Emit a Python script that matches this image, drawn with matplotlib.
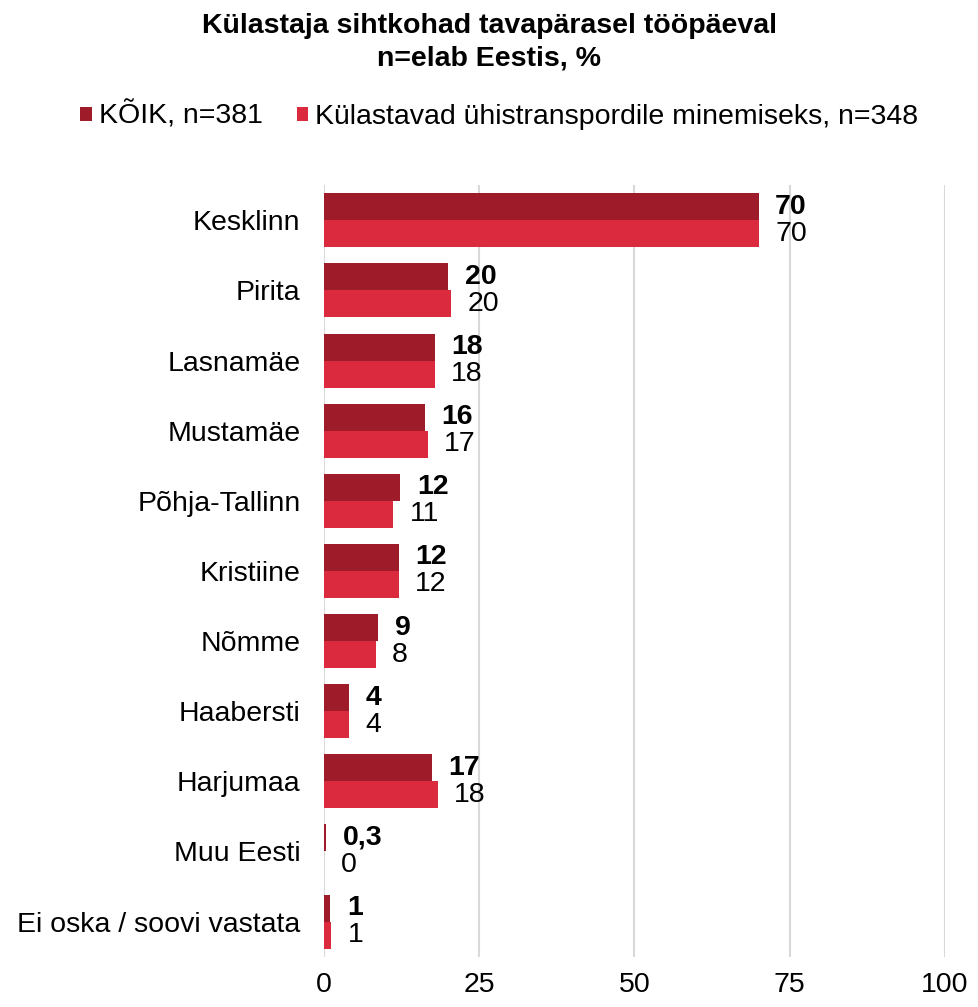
import numpy as np
import matplotlib.pyplot as plt

plt.rcParams['font.family'] = ['Liberation Sans', 'DejaVu Sans']

categories = ['Kesklinn', 'Pirita', 'Lasnamäe', 'Mustamäe', 'Põhja-Tallinn',
              'Kristiine', 'Nõmme', 'Haabersti', 'Harjumaa', 'Muu Eesti',
              'Ei oska / soovi vastata']
koik = [70, 20, 17.8, 16.2, 12.3, 12, 8.7, 4, 17.4, 0.3, 1]
koik_labels = ['70', '20', '18', '16', '12', '12', '9', '4', '17', '0,3', '1']
uhis = [70, 20.5, 17.8, 16.7, 11.1, 12, 8.3, 4, 18.3, 0, 1.1]
uhis_labels = ['70', '20', '18', '17', '11', '12', '8', '4', '18', '0', '1']
ticks = [0, 25, 50, 75, 100]

c_dark = '#9E1C2A'
c_light = '#DB2A3E'
fs = 20.5

fig = plt.figure(figsize=(9.79, 10.07), dpi=100)
ax = fig.add_axes([0.331, 0.05, 0.634, 0.766])

y = np.arange(len(categories))
h = 0.385
ax.barh(y - h/2, koik, height=h, color=c_dark, label='KÕIK, n=381')
ax.barh(y + h/2, uhis, height=h, color=c_light,
        label='Külastavad ühistranspordile minemiseks, n=348')

for i in range(len(categories)):
    ax.annotate(koik_labels[i], (koik[i], y[i] - h/2), xytext=(12, 0),
                textcoords='offset points', va='center', ha='left',
                fontsize=fs, fontweight='bold')
    ax.annotate(uhis_labels[i], (uhis[i], y[i] + h/2), xytext=(12, 0),
                textcoords='offset points', va='center', ha='left',
                fontsize=fs)

ax.set_ylim(len(categories) - 0.5, -0.5)
ax.set_xlim(0, 100)
ax.set_yticks(y)
ax.set_yticklabels(categories, fontsize=fs)
ax.set_xticks(ticks)
ax.set_xticklabels([str(t) for t in ticks], fontsize=fs)
ax.tick_params(axis='both', length=0)
ax.tick_params(axis='y', pad=17)
ax.tick_params(axis='x', pad=11)
ax.grid(axis='x', color='#D9D9D9', linewidth=1.5)
ax.set_axisbelow(True)
for s in ax.spines.values():
    s.set_visible(False)

fig.text(0.5, 0.987, 'Külastaja sihtkohad tavapärasel tööpäeval\nn=elab Eestis, %',
         ha='center', va='top', fontsize=fs, fontweight='bold', linespacing=1.3)
fig.legend(loc='center', bbox_to_anchor=(0.51, 0.885), ncol=2, frameon=False,
           fontsize=fs, handlelength=0.4, handleheight=0.4, handletextpad=0.25,
           columnspacing=1.2)

fig.savefig('out.png', dpi=100)
